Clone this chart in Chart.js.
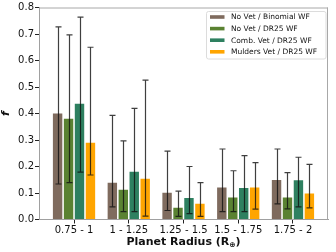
<!DOCTYPE html>
<html><head><meta charset="utf-8">
<script src="https://cdn.jsdelivr.net/npm/chart.js@4"></script>
<style>html,body{margin:0;padding:0;background:#fff}#wrap{width:336px;height:252px;position:relative}</style>
</head><body><div id="wrap"><canvas id="c" width="336" height="252"></canvas></div>
<script>
const categories = ['0.75 - 1', '1 - 1.25', '1.25 - 1.5', '1.5 - 1.75', '1.75 - 2'];
const seriesNames = ['No Vet / Binomial WF', 'No Vet / DR25 WF', 'Comb. Vet / DR25 WF', 'Mulders Vet / DR25 WF'];
const noVetBinomial = [0.400, 0.139, 0.101, 0.121, 0.149];
const noVetBinomialLo = [0.134, 0.048, 0.034, 0.030, 0.059];
const noVetBinomialHi = [0.727, 0.393, 0.258, 0.266, 0.266];
const noVetDR25 = [0.380, 0.112, 0.044, 0.083, 0.083];
const noVetDR25Lo = [0.139, 0.030, 0.012, 0.030, 0.040];
const noVetDR25Hi = [0.697, 0.297, 0.107, 0.184, 0.177];
const combVetDR25 = [0.437, 0.180, 0.081, 0.119, 0.148];
const combVetDR25Lo = [0.179, 0.030, 0.022, 0.030, 0.048];
const combVetDR25Hi = [0.764, 0.419, 0.200, 0.241, 0.235];
const muldersVetDR25 = [0.290, 0.154, 0.059, 0.121, 0.098];
const muldersVetDR25Lo = [0.168, 0.013, 0.012, 0.039, 0.044];
const muldersVetDR25Hi = [0.650, 0.526, 0.139, 0.215, 0.208];
const yTicks = [0, 0.1, 0.2, 0.3, 0.4, 0.5, 0.6, 0.7, 0.8];
const xTitleMain = 'Planet Radius (R';
const xTitleSub = '\u2295';
const xTitleEnd = ')';

const colors = ['#7f6b5e', '#5a8232', '#2e8060', '#ffa500'];
const values = [noVetBinomial, noVetDR25, combVetDR25, muldersVetDR25];
const los = [noVetBinomialLo, noVetDR25Lo, combVetDR25Lo, muldersVetDR25Lo];
const his = [noVetBinomialHi, noVetDR25Hi, combVetDR25Hi, muldersVetDR25Hi];
const FONT = "'DejaVu Sans'";

const datasets = values.map((vals, k) => ({
  label: seriesNames[k],
  data: vals.map((v, i) => ({x: i, y: v})),
  backgroundColor: colors[k],
  borderWidth: 0,
  barPercentage: 0.86,
  categoryPercentage: 0.8,
  errLo: los[k], errHi: his[k]
}));

const errorBars = {
  id: 'errorBars',
  afterDatasetsDraw(chart) {
    const ctx = chart.ctx, y = chart.scales.y;
    ctx.save();
    chart.data.datasets.forEach((ds, k) => {
      const meta = chart.getDatasetMeta(k);
      meta.data.forEach((bar, i) => {
        const x = Math.round(bar.x) + 0.5;
        const y1 = y.getPixelForValue(ds.errLo[i]);
        const y2 = y.getPixelForValue(ds.errHi[i]);
        ctx.strokeStyle = 'rgba(15,15,15,0.8)';
        ctx.lineWidth = 1.2;
        ctx.beginPath();
        ctx.moveTo(x, y1); ctx.lineTo(x, y2);
        ctx.moveTo(x - 3, y1); ctx.lineTo(x + 3, y1);
        ctx.moveTo(x - 3, y2); ctx.lineTo(x + 3, y2);
        ctx.stroke();
      });
    });
    ctx.restore();
  }
};

const frame = {
  id: 'frame',
  afterDraw(chart) {
    const a = chart.chartArea, ctx = chart.ctx;
    ctx.save();
    ctx.strokeStyle = '#a8a8a8';
    ctx.lineWidth = 1;
    ctx.beginPath();
    ctx.moveTo(a.left, a.top + 0.5); ctx.lineTo(a.right, a.top + 0.5);
    ctx.moveTo(a.right - 0.5, a.top); ctx.lineTo(a.right - 0.5, a.bottom);
    ctx.stroke();
    // x title with subscript
    ctx.fillStyle = '#111';
    ctx.textBaseline = 'alphabetic';
    ctx.textAlign = 'left';
    const fMain = 'bold 11px ' + FONT, fSub = 'bold 7.5px ' + FONT;
    ctx.font = fMain;
    const w1 = ctx.measureText(xTitleMain).width, w3 = ctx.measureText(xTitleEnd).width;
    ctx.font = fSub;
    const w2 = ctx.measureText(xTitleSub).width;
    const cx = (a.left + a.right) / 2;
    let tx = cx - (w1 + w2 + w3) / 2;
    const base = 245;
    ctx.font = fMain; ctx.fillText(xTitleMain, tx, base); tx += w1;
    ctx.font = fSub; ctx.fillText(xTitleSub, tx, base + 2); tx += w2;
    ctx.font = fMain; ctx.fillText(xTitleEnd, tx, base);
    // legend
    const bx = 206.5, by = 11.5, bw = 119.5, bh = 47.5;
    ctx.fillStyle = 'rgba(255,255,255,0.85)';
    ctx.strokeStyle = '#dcdcdc';
    ctx.beginPath();
    ctx.roundRect(bx, by, bw, bh, 2);
    ctx.fill(); ctx.stroke();
    ctx.font = '7.5px ' + FONT;
    ctx.textBaseline = 'middle';
    ctx.textAlign = 'left';
    chart.data.datasets.forEach((ds, k) => {
      const cy = 17 + k * 11.6;
      ctx.fillStyle = ds.backgroundColor;
      ctx.fillRect(210, cy - 1.8, 14.5, 3.6);
      ctx.fillStyle = '#111';
      ctx.fillText(ds.label, 231, cy + 0.5);
    });
    ctx.restore();
  }
};

new Chart(document.getElementById('c'), {
  type: 'bar',
  data: { datasets },
  options: {
    responsive: false,
    animation: false,
    devicePixelRatio: 1,
    layout: { padding: { top: 7.5, right: 8, left: 0, bottom: 0 } },
    plugins: { legend: { display: false }, tooltip: { enabled: false } },
    scales: {
      x: {
        type: 'linear', min: -0.64, max: 4.64, offset: false,
        afterBuildTicks(s) { s.ticks = categories.map((c, i) => ({ value: i })); },
        afterFit(s) { s.height = 32.5; },
        grid: { offset: false, drawOnChartArea: false, drawTicks: true, tickLength: 4, color: '#222' },
        border: { display: true, color: '#a0a0a0', width: 1 },
        ticks: { color: '#111', font: { family: FONT, size: 10 }, padding: 1, maxRotation: 0, autoSkip: false,
          callback: (v) => categories[v] },
        title: { display: false }
      },
      y: {
        min: 0, max: 0.8,
        afterBuildTicks(s) { s.ticks = yTicks.map(v => ({ value: v })); },
        afterFit(s) { s.width = 39; },
        grid: { drawOnChartArea: false, drawTicks: true, tickLength: 4, color: '#222' },
        border: { display: true, color: '#a0a0a0', width: 1 },
        ticks: { color: '#111', font: { family: FONT, size: 10 }, padding: 1, callback: (v) => v.toFixed(1) },
        title: { display: true, text: 'f', color: '#111',
          font: { family: FONT, size: 11, weight: 'bold', style: 'italic' }, padding: { top: 0, bottom: 0 } }
      }
    }
  },
  plugins: [errorBars, frame]
});
</script></body></html>
